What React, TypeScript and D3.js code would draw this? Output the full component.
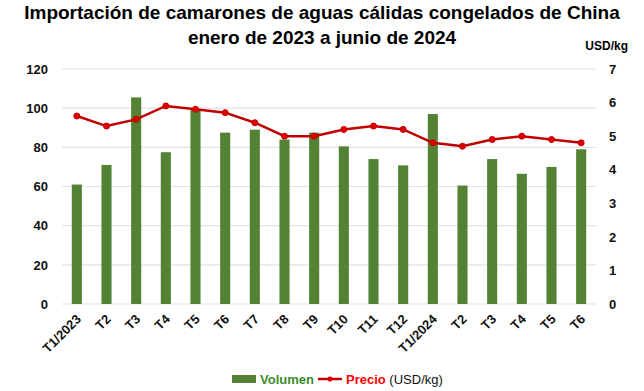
import React, { useEffect, useRef } from "react";
import * as d3 from "d3";

// quarters / months shown on the x axis
const categories = [
  "T1/2023", "T2", "T3", "T4", "T5", "T6", "T7", "T8", "T9", "T10", "T11", "T12",
  "T1/2024", "T2 ", "T3 ", "T4 ", "T5 ", "T6 ",
];
const volumen = [61, 71, 105.5, 77.5, 99.5, 87.5, 89, 84, 87.5, 80.5, 74, 70.8, 97, 60.5, 74, 66.5, 70, 79];
const precio = [5.6, 5.3, 5.5, 5.9, 5.8, 5.7, 5.4, 5.0, 5.0, 5.2, 5.3, 5.2, 4.8, 4.7, 4.9, 5.0, 4.9, 4.8];
const leftTicks = [0, 20, 40, 60, 80, 100, 120];
const rightTicks = [0, 1, 2, 3, 4, 5, 6, 7];

const W = 644, H = 391;
const FONT = "Liberation Sans, Arial, sans-serif";

export default function App() {
  const ref = useRef<SVGSVGElement>(null);

  useEffect(() => {
    const svg = d3.select(ref.current);
    svg.selectAll("*").remove();

    const margin = { top: 69, right: 48, bottom: 87, left: 62 };
    const w = W - margin.left - margin.right;
    const h = H - margin.top - margin.bottom;

    // title
    const title = svg.append("g").attr("font-family", FONT).attr("font-weight", "bold")
      .attr("font-size", 19).attr("text-anchor", "middle").attr("fill", "#000");
    title.append("text").attr("x", W / 2).attr("y", 19).text("Importación de camarones de aguas cálidas congelados de China");
    title.append("text").attr("x", W / 2).attr("y", 44).text("enero de 2023 a junio de 2024");

    svg.append("text").attr("x", 628).attr("y", 50).attr("text-anchor", "end")
      .attr("font-family", FONT).attr("font-weight", "bold").attr("font-size", 12).text("USD/kg");

    const g = svg.append("g").attr("transform", `translate(${margin.left},${margin.top})`);

    const x = d3.scaleBand().domain(categories).range([0, w]).paddingInner(0.66).paddingOuter(0.33);
    const yL = d3.scaleLinear().domain([0, 120]).range([h, 0]);
    const yR = d3.scaleLinear().domain([0, 7]).range([h, 0]);

    // gridlines
    g.selectAll(".grid").data(leftTicks).join("line")
      .attr("x1", 0).attr("x2", w)
      .attr("y1", d => yL(d)).attr("y2", d => yL(d))
      .attr("stroke", "#e2e2e2").attr("stroke-width", 1.2);

    // left axis
    const yAxisL = d3.axisLeft(yL).tickValues(leftTicks).tickSize(0).tickPadding(14);
    const gl = g.append("g").call(yAxisL);
    gl.select(".domain").remove();
    gl.selectAll("text").attr("font-family", FONT).attr("font-weight", "bold").attr("font-size", 13).attr("fill", "#111");

    // right axis
    const yAxisR = d3.axisRight(yR).tickValues(rightTicks).tickFormat(d3.format("d")).tickSize(0).tickPadding(13);
    const gr = g.append("g").attr("transform", `translate(${w},0)`).call(yAxisR);
    gr.select(".domain").remove();
    gr.selectAll("text").attr("font-family", FONT).attr("font-weight", "bold").attr("font-size", 13).attr("fill", "#111");

    // bars
    g.selectAll(".bar").data(volumen).join("rect")
      .attr("x", (d, i) => x(categories[i])!)
      .attr("width", x.bandwidth())
      .attr("y", d => yL(d))
      .attr("height", d => h - yL(d))
      .attr("fill", "#548235");

    // price line
    const cx = (i: number) => x(categories[i])! + x.bandwidth() / 2;
    const line = d3.line<number>().x((d, i) => cx(i)).y(d => yR(d));
    g.append("path").datum(precio).attr("d", line)
      .attr("fill", "none").attr("stroke", "#c00000").attr("stroke-width", 2.5);
    g.selectAll(".pt").data(precio).join("circle")
      .attr("cx", (d, i) => cx(i)).attr("cy", d => yR(d)).attr("r", 3)
      .attr("fill", "#e00000").attr("stroke", "#c00000");

    // x labels
    g.append("g").selectAll("text").data(categories).join("text")
      .attr("transform", (d, i) => `translate(${cx(i) + 5},${h + 16}) rotate(-45)`)
      .attr("text-anchor", "end")
      .attr("font-family", FONT).attr("font-weight", "bold").attr("font-size", 13).attr("fill", "#111")
      .text(d => d.trim());

    // legend
    const lg = svg.append("g").attr("font-family", FONT).attr("font-size", 13);
    lg.append("rect").attr("x", 232).attr("y", 375).attr("width", 24).attr("height", 8).attr("fill", "#548235");
    lg.append("text").attr("x", 260).attr("y", 384).attr("font-weight", "bold").attr("fill", "#3d8b2a").text("Volumen");
    lg.append("line").attr("x1", 318).attr("x2", 342).attr("y1", 379).attr("y2", 379).attr("stroke", "#c00000").attr("stroke-width", 2.5);
    lg.append("circle").attr("cx", 330).attr("cy", 379).attr("r", 2.5).attr("fill", "#e00000");
    const t = lg.append("text").attr("x", 346).attr("y", 384);
    t.append("tspan").attr("font-weight", "bold").attr("fill", "#ff0000").text("Precio");
    t.append("tspan").attr("fill", "#111").text(" (USD/kg)");
  }, []);

  return <svg ref={ref} width={W} height={H} style={{ position: "absolute", left: 0, top: 0, background: "#fff" }} />;
}
